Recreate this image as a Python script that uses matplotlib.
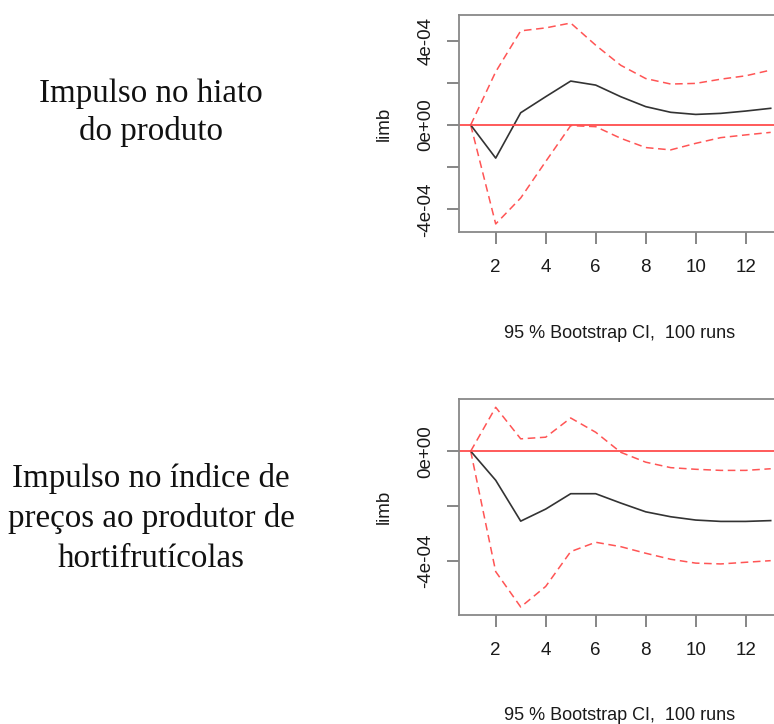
import matplotlib
matplotlib.use("Agg")
import matplotlib.pyplot as plt
import numpy as np

# impulse response horizon (periods ahead)
horizon = np.arange(1, 14)

# shock to the output gap
irf_hiato = [0, -1.57e-4, 0.58e-4, 1.34e-4, 2.08e-4, 1.89e-4, 1.34e-4,
             0.87e-4, 0.60e-4, 0.50e-4, 0.55e-4, 0.66e-4, 0.79e-4]
upper_hiato = [0, 2.52e-4, 4.46e-4, 4.60e-4, 4.83e-4, 3.78e-4, 2.83e-4,
               2.20e-4, 1.94e-4, 1.97e-4, 2.17e-4, 2.33e-4, 2.60e-4]
lower_hiato = [0, -4.69e-4, -3.46e-4, -1.73e-4, -0.03e-4, -0.08e-4, -0.63e-4,
               -1.07e-4, -1.18e-4, -0.87e-4, -0.60e-4, -0.47e-4, -0.35e-4]

# shock to the horticultural producer price index
irf_ipa = [0, -1.06e-4, -2.55e-4, -2.11e-4, -1.55e-4, -1.55e-4, -1.89e-4,
           -2.21e-4, -2.39e-4, -2.51e-4, -2.56e-4, -2.56e-4, -2.53e-4]
upper_ipa = [0, 1.60e-4, 0.45e-4, 0.51e-4, 1.21e-4, 0.69e-4, -0.04e-4,
             -0.40e-4, -0.60e-4, -0.66e-4, -0.70e-4, -0.70e-4, -0.64e-4]
lower_ipa = [0, -4.39e-4, -5.68e-4, -4.93e-4, -3.66e-4, -3.32e-4, -3.48e-4,
             -3.72e-4, -3.94e-4, -4.08e-4, -4.11e-4, -4.05e-4, -3.99e-4]

x_ticks = [2, 4, 6, 8, 10, 12]
yticks_hiato = [-4e-4, -2e-4, 0, 2e-4, 4e-4]
ylabels_hiato = ["-4e-04", "", "0e+00", "", "4e-04"]
yticks_ipa = [-4e-4, -2e-4, 0]
ylabels_ipa = ["-4e-04", "", "0e+00"]

labels_hiato = ["Impulso no hiato", "do produto"]
labels_ipa = ["Impulso no índice de", "preços ao produtor de", "hortifrutícolas"]
caption = "95 % Bootstrap CI,  100 runs"

W, H = 774, 724
fig = plt.figure(figsize=(W / 100, H / 100), dpi=100)
plt.rcParams["font.family"] = ["Liberation Sans", "DejaVu Sans"]


def r_range(values):
    # R style axis range: data range padded by 4 % on each side
    lo, hi = np.min(values), np.max(values)
    pad = 0.04 * (hi - lo)
    return lo - pad, hi + pad


def irf_panel(top_px, bottom_px, irf, upper, lower, yticks, ylabels):
    left_px, right_px = 458.7, 782.7
    ax = fig.add_axes([left_px / W, 1 - bottom_px / H,
                       (right_px - left_px) / W, (bottom_px - top_px) / H])
    ax.plot(horizon, upper, color="#ff2a2a", lw=1.1, dashes=(5, 3), alpha=0.8)
    ax.plot(horizon, lower, color="#ff2a2a", lw=1.1, dashes=(5, 3), alpha=0.8)
    ax.plot(horizon, irf, color="#333333", lw=1.2)
    ax.axhline(0, color="#ff4d4d", lw=1.3)

    ax.set_xlim(*r_range(horizon))
    ax.set_ylim(*r_range(np.concatenate([irf, upper, lower])))
    ax.set_xticks(x_ticks)
    ax.set_yticks(yticks)
    ax.set_yticklabels(ylabels, rotation=90, va="center")
    ax.set_ylabel("limb", fontsize=13.5, color="#1a1a1a", labelpad=18)
    ax.tick_params(axis="both", length=8.5, width=1.1, color="#666666",
                   labelsize=13.5, labelcolor="#1a1a1a")
    ax.tick_params(axis="x", pad=11)
    ax.tick_params(axis="y", pad=9)
    for sp in ax.spines.values():
        sp.set_color("#888888")
        sp.set_linewidth(1.3)
    return ax


irf_panel(15, 232, irf_hiato, upper_hiato, lower_hiato, yticks_hiato, ylabels_hiato)
irf_panel(399.3, 615, irf_ipa, upper_ipa, lower_ipa, yticks_ipa, ylabels_ipa)

fig.text(620 / W, 1 - 334 / H, caption, ha="center", va="center",
         fontsize=13, color="#1a1a1a")
fig.text(620 / W, 1 - 716 / H, caption, ha="center", va="center",
         fontsize=13, color="#1a1a1a")

# shock descriptions on the left, one line at a time
for i, line in enumerate(labels_hiato):
    fig.text(151 / W, 1 - (102 + 38 * i) / H, line, ha="center", va="baseline",
             fontsize=23.8, family="Liberation Serif", color="#111111")
for i, line in enumerate(labels_ipa):
    fig.text(151 / W, 1 - (487 + 40 * i) / H, line, ha="center", va="baseline",
             fontsize=23.8, family="Liberation Serif", color="#111111")

fig.savefig("out.png", dpi=100)
